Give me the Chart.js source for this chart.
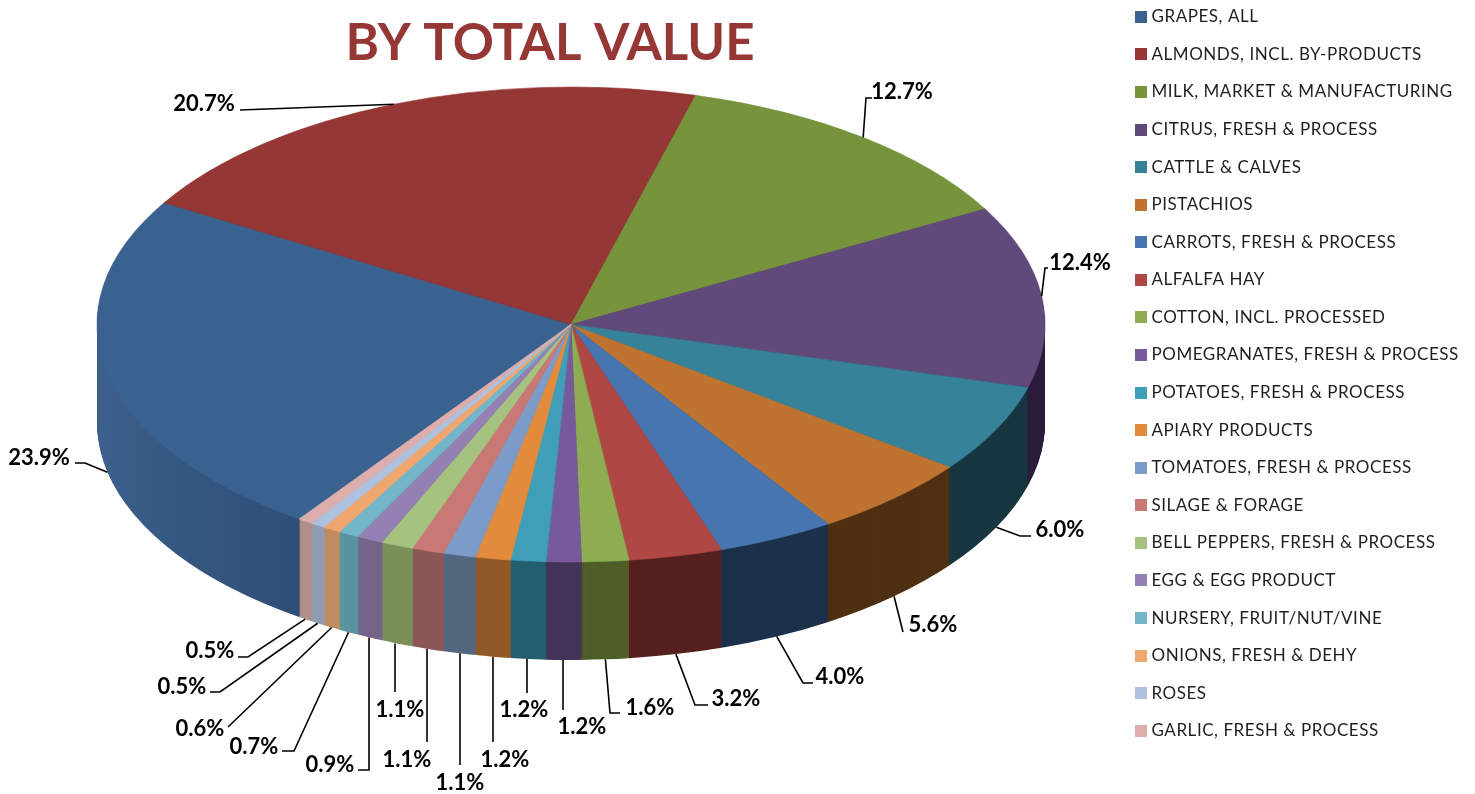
<!DOCTYPE html>
<html><head><meta charset="utf-8">
<style>html,body{margin:0;padding:0;background:#fff;overflow:hidden}canvas{display:block}</style>
<script src="https://cdn.jsdelivr.net/npm/chart.js@4"></script>
</head><body><canvas id="c" width="1475" height="794"></canvas>
<script>
const categories = ["GRAPES, ALL","ALMONDS, INCL. BY-PRODUCTS","MILK, MARKET & MANUFACTURING","CITRUS, FRESH & PROCESS","CATTLE & CALVES","PISTACHIOS","CARROTS, FRESH & PROCESS","ALFALFA HAY","COTTON, INCL. PROCESSED","POMEGRANATES, FRESH & PROCESS","POTATOES, FRESH & PROCESS","APIARY PRODUCTS","TOMATOES, FRESH & PROCESS","SILAGE & FORAGE","BELL PEPPERS, FRESH & PROCESS","EGG & EGG PRODUCT","NURSERY, FRUIT/NUT/VINE","ONIONS, FRESH & DEHY","ROSES","GARLIC, FRESH & PROCESS"];
const shares = [23.9,20.7,12.7,12.4,6.0,5.6,4.0,3.2,1.6,1.2,1.2,1.2,1.1,1.1,1.1,0.9,0.7,0.6,0.5,0.5];
const topColors = ["#3A6291","#953735","#77933C","#604A7B","#368299","#BE7330","#4775B0","#AF4744","#8EAD52","#775A9C","#3F9FB8","#E28B3D","#7B9CC9","#C87875","#A6C27F","#9580B3","#73B6C9","#F0A76F","#ADC0DE","#DDAEAC"];
const wallColors = ["#33557F","#56211F","#4F5E28","#2A1D3C","#17363F","#4F3012","#1C314B","#56211F","#4F5E28","#43345A","#245F70","#8F5A28","#53677F","#8B5755","#7B9059","#75648A","#5A949F","#C08B60","#8E9DB3","#B28F89"];
// Label placement: text centre, then the leader's bend points walking from the label to the pie rim.
const labelCentres = [[39,458],[204,104],[902,92],[1080,263],[1060,530],[933,625],[840,677],[736,699],[650,708],[582,727],[524,710],[505,760],[460,783],[407,760],[400,710],[330,765],[254,747],[200,729],[182,687],[210,651]];
const leaderPaths = [[[75,463],[85,463]],[[240,110]],[[872,98],[866,98]],[[1048,268],[1045,268]],[[1031,536],[1020,536]],[[903,632]],[[813,683],[803,683]],[[708,705],[695,705]],[[620,713],[610,713]],[[563,710]],[[527,693]],[[493,742]],[[460,765]],[[427,742]],[[395,692]],[[358,770],[369,770]],[[282,751],[294,751]],[[228,727]],[[210,692],[220,692]],[[238,657],[248,657]]];

const PIE = {cx:571, cy:324.5, rx:474, ry:237.5, depth:98, rotation:215.0};

function place(ctx, el, dy){
  const k = el.outerRadius;
  ctx.translate(PIE.cx, PIE.cy + dy);
  ctx.scale(PIE.rx / k, PIE.ry / k);
  ctx.translate(-el.x, -el.y);
}
function swatch(color){
  const s = document.createElement('canvas'); s.width = 12; s.height = 12;
  const g = s.getContext('2d'); g.fillStyle = color; g.fillRect(0,0,12,12);
  return s;
}
const pie3d = {
  id:'pie3d',
  afterLayout(chart){
    const lg = chart.legend, t = chart.titleBlock;
    lg.left = 1119.4; lg.top = -12.3;
    t.left = 250; t.right = 850; t.top = 18.5;
    if(!lg._spaced){
      lg._spaced = true;
      const orig = lg.draw;
      lg.draw = function(){ chart.ctx.letterSpacing='0.55px'; orig.call(this); chart.ctx.letterSpacing='0px'; };
    }
  },
  beforeDatasetDraw(chart, args){
    const ctx = chart.ctx, arcs = args.meta.data;
    const k = arcs[0].outerRadius, ax = arcs[0].x;
    const toArc = px => ax + (px - PIE.cx) * k / PIE.rx;
    const grad = ctx.createLinearGradient(toArc(97),0,toArc(300),0);
    grad.addColorStop(0,'#3C608C'); grad.addColorStop(.45,'#345780'); grad.addColorStop(1,'#2F4E78');
    for(let d = PIE.depth; d >= 1; d--){
      ctx.save();
      place(ctx, arcs[0], d);
      arcs.forEach((el,i)=>{
        const g = Object.create(el);
        const fill = i === 0 ? grad : wallColors[i];
        g.options = {backgroundColor:fill,borderColor:fill,borderWidth:0,offset:0,spacing:0,borderRadius:0,circular:true,borderAlign:'center'};
        g.draw(ctx);
      });
      ctx.restore();
    }
    ctx.save();
    place(ctx, arcs[0], 0);
  },
  afterDatasetDraw(chart){ chart.ctx.restore(); },
  afterDraw(chart){
    const ctx = chart.ctx, arcs = chart.getDatasetMeta(0).data;
    ctx.save();
    ctx.strokeStyle = '#000'; ctx.lineWidth = 1.6; ctx.lineJoin = 'miter';
    arcs.forEach((el,i)=>{
      const mid = (el.startAngle + el.endAngle)/2;
      let x = PIE.cx + PIE.rx*Math.cos(mid);
      const sy = Math.sin(mid);
      const y = PIE.cy + PIE.ry*sy + (sy > 0 ? PIE.depth : 0);
      const path = leaderPaths[i], last = path[path.length-1];
      if(sy > 0 && Math.abs(last[0]-x) < 4) x = last[0];
      ctx.beginPath();
      path.forEach((p,j)=> j ? ctx.lineTo(p[0],p[1]) : ctx.moveTo(p[0],p[1]));
      ctx.lineTo(x,y);
      ctx.stroke();
    });
    ctx.fillStyle = '#000'; ctx.font = 'bold 22px Lato'; ctx.textAlign='center'; ctx.textBaseline='middle';
    shares.forEach((v,i)=> ctx.fillText(v.toFixed(1)+'%', labelCentres[i][0], labelCentres[i][1]));
    ctx.restore();
  }
};
new Chart(document.getElementById('c'),{
  type:'pie',
  data:{labels:categories,datasets:[{data:shares,backgroundColor:topColors,borderColor:topColors,borderWidth:0.6,clip:false}]},
  plugins:[pie3d],
  options:{
    responsive:false, animation:false, events:[],
    rotation:PIE.rotation,
    layout:{padding:0},
    plugins:{
      tooltip:{enabled:false},
      title:{display:true,text:'BY TOTAL VALUE',color:'#953735',padding:0,font:{family:'Lato',weight:'bold',size:51,lineHeight:1}},
      legend:{position:'right',align:'start',labels:{
        color:'#1F1F1F',font:{family:'Lato',size:17},padding:20.58,usePointStyle:true,pointStyleWidth:3,
        generateLabels(chart){
          return Chart.overrides.doughnut.plugins.legend.labels.generateLabels(chart).map((it,i)=>({...it,pointStyle:swatch(topColors[i])}));
        }
      }}
    }
  }
});
</script></body></html>
